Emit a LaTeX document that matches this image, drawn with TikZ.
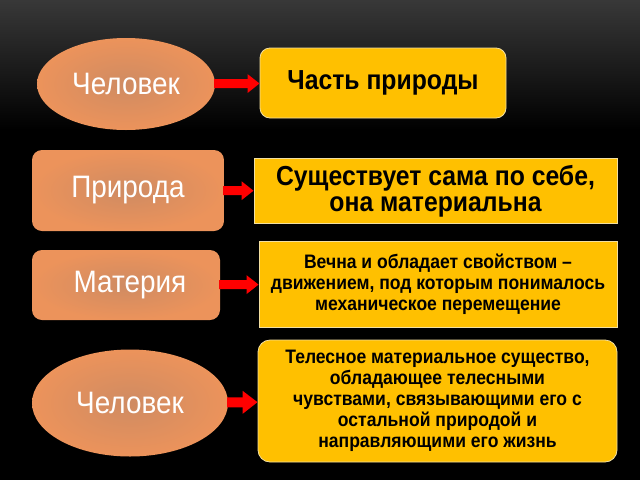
\documentclass[tikz,border=0pt]{standalone}
\usepackage{fontspec}
\setmainfont{Liberation Sans}
\newfontfamily\narrowfont[FakeStretch=0.9]{Liberation Sans}
\usetikzlibrary{arrows.meta,shapes.geometric,shadings}
\definecolor{orangefill}{HTML}{EC935B}
\definecolor{orangemid}{HTML}{CF8B62}
\definecolor{yellowfill}{HTML}{FFC000}
\definecolor{yellowline}{HTML}{F2DFA0}
\begin{document}
\begin{tikzpicture}[x=1pt, y=-1pt,
        term/.style = {inner color=orangemid, outer color=orangefill, text=white,
                       font=\narrowfont\fontsize{31}{34}\selectfont},
        oval/.style = {term, ellipse, inner sep=0pt},
        plate/.style = {term, rectangle, rounded corners=10pt},
        card/.style = {fill=yellowfill, draw=yellowline, line width=0.8pt, align=center,
                       font=\narrowfont\bfseries\fontsize{19.5}{21}\selectfont},
        bigcard/.style = {card, font=\narrowfont\bfseries\fontsize{27.5}{26}\selectfont},
        pointer/.style = {draw=red, line width=9pt,
                          -{Triangle[length=12pt, width=18pt]}, shorten <=-1pt},
    ]
    % background
    \fill[black] (0,0) rectangle (640,480);
    \shade[top color=black!78, bottom color=black] (0,0) rectangle (640,130);
    \useasboundingbox (0,0) rectangle (640,480);

    \node (man1) at (126,84) [oval, minimum width=178pt, minimum height=92pt] {Человек};
    \node (part) at (383,83) [bigcard, rounded corners=10pt, minimum width=246pt, minimum height=70pt]
        {\raisebox{6pt}{Часть природы}};

    \node (nature) at (128,190.5) [plate, minimum width=192pt, minimum height=81pt] {Природа};
    \node (self) at (435.5,191) [bigcard, minimum width=363pt, minimum height=65pt]
        {Существует сама по себе,\\она материальна};

    \node (matter) at (126,285) [plate, minimum width=188pt, minimum height=70pt] {\hspace{8pt}Материя};
    \node (eternal) at (438,284) [card, minimum width=358pt, minimum height=86pt]
        {Вечна и обладает свойством –\\движением, под которым понималось\\механическое перемещение};

    \node (man2) at (130,403) [oval, minimum width=196pt, minimum height=107pt] {Человек};
    \node (body) at (437.5,401) [card, rounded corners=12pt, minimum width=359pt, minimum height=122pt]
        {Телесное материальное существо,\\обладающее телесными\\чувствами, связывающими его с\\остальной природой и\\направляющими его жизнь};

    \draw[pointer] (man1) -- (part);
    \draw[pointer] (nature) -- (self);
    \draw[pointer] (matter) -- (eternal);
    \draw[pointer, line width=10pt, -{Triangle[length=15pt, width=22pt]}] (man2) -- (body);
\end{tikzpicture}
\end{document}
